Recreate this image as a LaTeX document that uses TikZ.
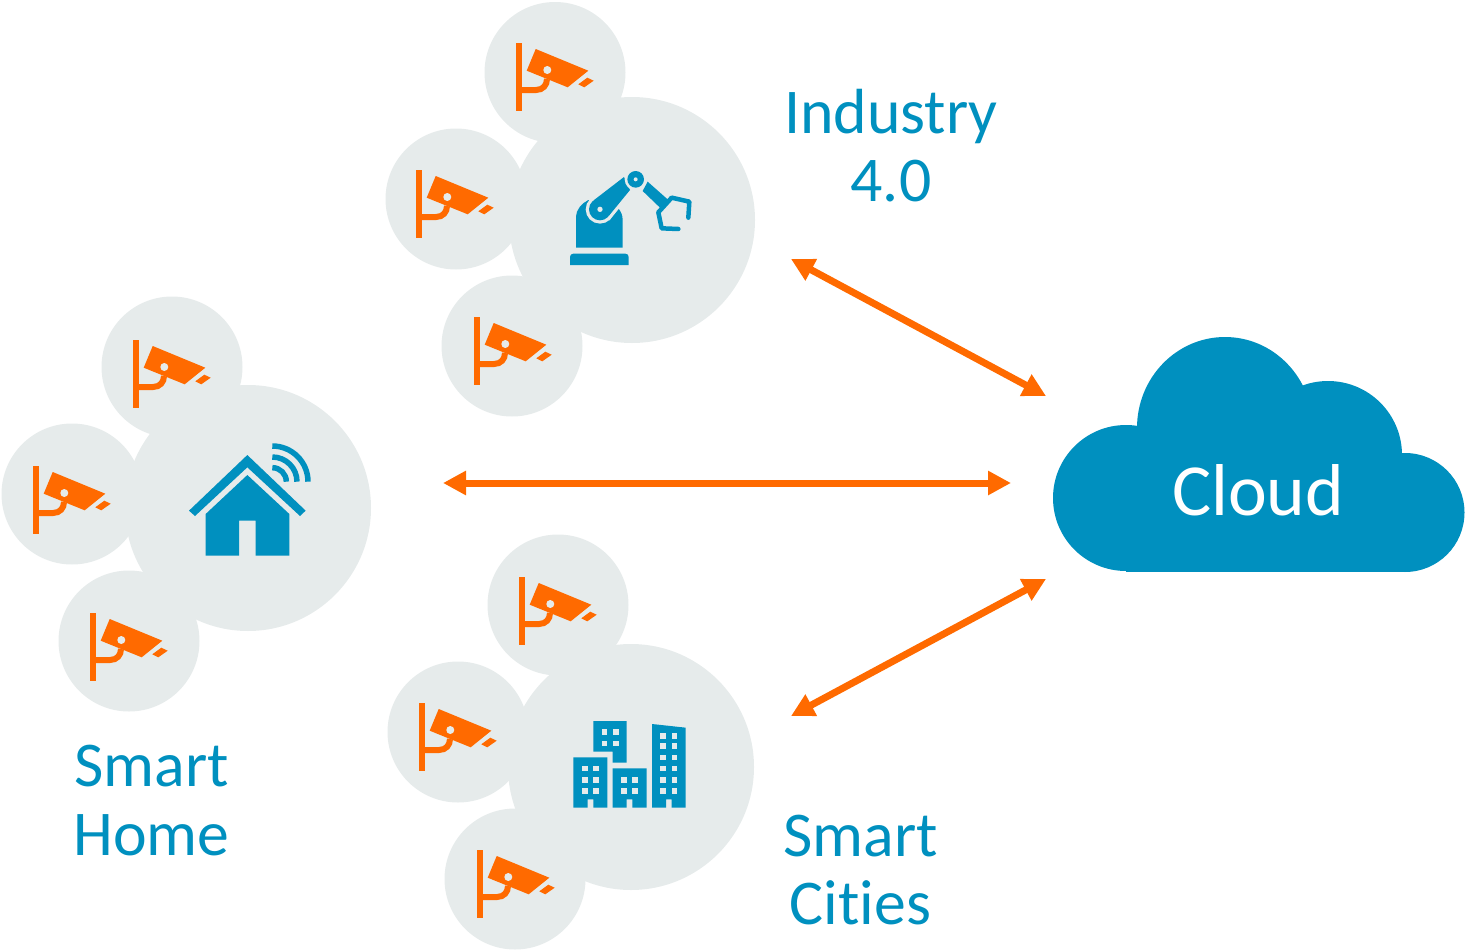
\documentclass[tikz,border=0pt]{standalone}
\usepackage{fontspec}
\setmainfont{Carlito}[Ligatures=NoCommon]
\usetikzlibrary{arrows.meta}
\definecolor{camorange}{HTML}{FF6A00}
\definecolor{iconblue}{HTML}{0090BF}
\definecolor{bubblegrey}{HTML}{E6EBEB}
\tikzset{
  bigbubble/.style={fill=bubblegrey},
  smallbubble/.style={fill=bubblegrey},
  sitelabel/.style={text=iconblue,align=center,font=\fontsize{36.3}{39}\selectfont},
  link/.style={draw=camorange,line width=0.14cm,{Triangle[length=0.46cm,width=0.46cm]}-{Triangle[length=0.46cm,width=0.46cm]}}
}
% One camera, the first argument is the top left corner of the pole
\newcommand{\camera}[1]{
\begin{scope}[shift={#1}]
\fill[camorange] (0,0) rectangle (6,68);
\fill[camorange] (19.7,6) -- (72.3,27.7) -- (51.7,44.3) -- (10.7,27.7) -- cycle;
\fill[camorange] (71.3,34.7) -- (77.7,37.7) -- (68.3,44.3) -- (62.3,41.3) -- cycle;
\fill[bubblegrey] (31.3,27) circle (4);
\draw[camorange,line width=0.12cm] (3,47) -- (20,47) .. controls (27,47) and (31,42) .. (31,36);
\end{scope}
}
\begin{document}
\begin{tikzpicture}[x=0.02cm,y=-0.02cm]
\useasboundingbox (0,0) rectangle (1468,950);

% Draw the three bubbles
\fill[bigbubble] (632,220) circle (123);
\fill[bigbubble] (248,508) circle (123);
\fill[bigbubble] (631,767) circle (123);
\foreach \cx/\cy in {555/72.5,456/199,512/346,172/367,72/494,129/641,558/605,458/732,515/879}
  \fill[smallbubble] (\cx,\cy) circle (70.5);

% Draw the cameras
\foreach \px/\py in {516/43,416/170,474/317,133/340,33/466,90/613,519/577,419/703,477/850}
  {\camera{(\px,\py)}}

% Robot arm
\begin{scope}[shift={(550,155)},xscale=1/3,yscale=1/3]
\fill[iconblue] (60,330) -- (60,306) .. controls (60,300) and (64,296) .. (70,296) -- (226,296) .. controls (232,296) and (236,300) .. (236,306) -- (236,330) -- cycle;
\fill[iconblue] (78,278) -- (78,185) .. controls (78,165) and (95,145) .. (115,135) -- (205,160) .. controls (213,170) and (218,180) .. (218,195) -- (218,278) -- cycle;
\draw[bubblegrey,line width=0.13cm] (150,163) circle (33);
\draw[bubblegrey,line width=0.13cm] (131,136) -- (222,66) -- (240,105) -- (177,182) -- cycle;
\fill[iconblue] (150,163) circle (33);
\fill[iconblue] (131,136) -- (222,66) -- (240,105) -- (177,182) -- cycle;
\fill[bubblegrey] (150,163) circle (8);
\fill[bubblegrey] (257,73) circle (33);
\fill[iconblue] (257,73) circle (25);
\fill[bubblegrey] (257,73) circle (6);
\fill[iconblue] (293,80) -- (355,135) -- (330,158) -- (278,108) -- cycle;
\draw[iconblue,line width=0.09cm,line cap=round,line join=round] (415,188) -- (418,140) -- (365,128) -- (325,172) -- (335,220) -- (385,222);
\end{scope}

% House with the wireless sign
\begin{scope}[shift={(175,430)},xscale=1/3,yscale=1/3]
\fill[iconblue] (217,75) -- (42,242) -- (60,258) -- (217,112) -- (375,258) -- (392,242) -- cycle;
\fill[iconblue] (217,135) -- (92,252) -- (92,377) -- (192,377) -- (192,272) -- (242,272) -- (242,377) -- (343,377) -- (343,252) -- cycle;
\foreach \r in {42,74,107}
  \draw[iconblue,line width=0.11cm] (292,155-\r) arc[start angle=-90,end angle=0,radius=\r];
\end{scope}

% Buildings
\begin{scope}[shift={(560,710)},xscale=1/3,yscale=1/3]
\fill[iconblue] (100,33) -- (200,33) -- (200,158) -- (158,158) -- (158,125) -- (100,125) -- cycle;
\fill[iconblue] (40,142) -- (142,142) -- (142,293) -- (100,293) -- (100,268) -- (83,268) -- (83,293) -- (40,293) -- cycle;
\fill[iconblue] (158,175) -- (260,175) -- (260,293) -- (217,293) -- (217,268) -- (200,268) -- (200,293) -- (158,293) -- cycle;
\fill[iconblue] (276,42) -- (377,53) -- (377,293) -- (335,293) -- (335,268) -- (318,268) -- (318,293) -- (276,293) -- cycle;
\foreach \wx/\wy in {133/66,167/66,133/100,167/100,75/175,108/175,75/209,108/209,75/242,108/242,192/209,225/209,192/242,225/242,309/78,343/78,309/108,343/108,309/142,343/142,309/175,343/175,309/209,343/209,309/242,343/242}
  \fill[bubblegrey] (\wx-8.5,\wy-8.5) rectangle (\wx+8.5,\wy+8.5);
\end{scope}

% Cloud
\fill[iconblue] (1126,498) circle (73) (1328,455) circle (74) (1405,512.5) circle (59.5);
\fill[iconblue] (1225,428) ellipse (88 and 91);
\fill[iconblue] (1126,470) rectangle (1405,571.5);
\node[text=white,font=\fontsize{41.8}{41.8}\selectfont] (cloud) at (1258,490) {Cloud};

% Labels
\node[sitelabel] (industry) at (891,145.5) {Industry\\4.0};
\node[sitelabel] (home) at (151.5,800.5) {Smart\\Home};
\node[sitelabel] (cities) at (860.5,870) {Smart\\Cities};

% Links to the cloud
\coordinate (industrylink) at (791,259);
\coordinate (homelink) at (443,483);
\coordinate (citieslink) at (791,716);
\coordinate (cloudtop) at (1046,396);
\coordinate (cloudmid) at (1011,483);
\coordinate (cloudbot) at (1046,579);
\draw[link] (industrylink) -- (cloudtop);
\draw[link] (homelink) -- (cloudmid);
\draw[link] (citieslink) -- (cloudbot);
\end{tikzpicture}
\end{document}
